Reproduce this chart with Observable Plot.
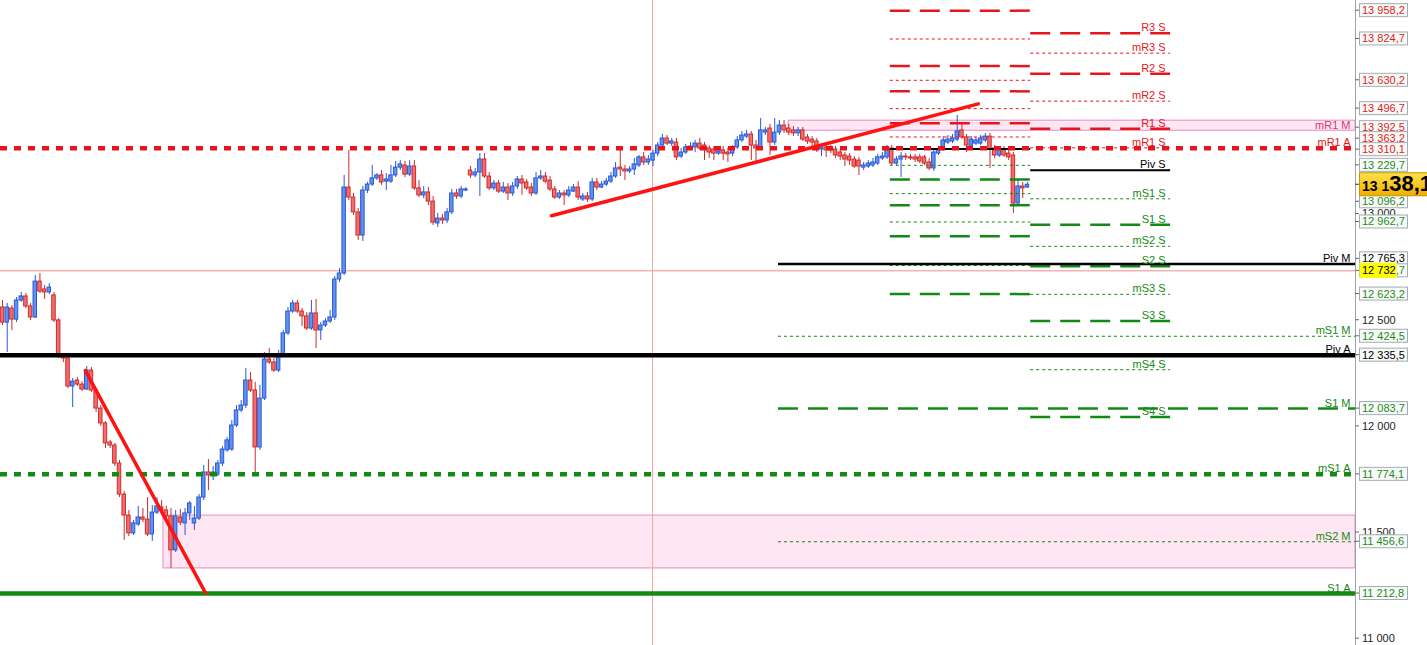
<!DOCTYPE html>
<html><head><meta charset="utf-8">
<script src="https://cdn.jsdelivr.net/npm/d3@7"></script>
<script src="https://cdn.jsdelivr.net/npm/@observablehq/plot@0.6"></script>
<style>html,body{margin:0;padding:0;background:#fff;overflow:hidden}</style>
</head><body><div id="chart"></div>
<script>
// ---- candle data (bar index = position in arrays) ----
const opens = [
12560,12489,12555,12503,12593,12612,12565,12513,12682,12645,
12631,12617,12499,12329,12320,12188,12216,12197,12174,12263,
12169,12084,12014,11924,11910,11825,11679,11580,11496,11538,
11571,11561,11491,11594,11618,11604,11576,11416,11571,11543,
11590,11543,11566,11665,11783,11769,11773,11825,11887,11891,
12004,12075,12098,12216,12169,11901,12131,12315,12301,12263,
12334,12438,12541,12579,12541,12518,12461,12532,12452,12475,
12494,12513,12692,12720,
13125,13078,13008,12899,13111,13139,13168,13182,13153,13153,
13182,13219,13229,13186,13224,13121,13088,13102,13059,12956,
12979,12970,13008,13097,13083,13111,13205,13182,13196,13257,
13177,13121,13144,13106,13125,13097,13130,13163,13149,13125,
13097,13168,13177,13158,13116,13078,13097,13088,13106,13125,
13069,13083,13069,13149,13125,13139,13153,13177,13219,13210,
13201,13210,13229,13267,13243,13252,13285,13323,13356,13332,
13337,
13271,13290,13314,13314,13332,13323,13309,13304,13285,13300,
13290,13285,13314,13347,13365,13375,13323,13309,13384,13403,
13337,13384,13417,13403,13394,13380,13394,13361,13351,13342,
13304,13314,13309,13304,13290,13276,13271,13257,13252,13219,
13224,13229,13238,13262,13267,13309,13238,13257,13271,13267,
13267,13267,13267,13243,13215,13285,13304,13337,13342,13351,
13394,13361,13318,13332,13332,13347,13365,13309,13276,13304,
13285,13276,13050,13130,13125];
const highs = [
12593,12579,12569,12607,12631,12626,12579,12711,12720,12664,
12673,12631,12508,12339,12329,12226,12230,12211,12282,12277,
12178,12098,12023,11934,11920,11839,11693,11604,11557,11623,
11613,11665,11627,11665,11651,11623,11613,11604,11609,11613,
11646,11623,11679,11816,11844,11811,11839,11905,11948,12028,
12098,12122,12273,12254,12207,12193,12348,12367,12320,12358,
12452,12560,12593,12593,12555,12536,12593,12598,12489,12508,
12546,12706,12744,13182,
13300,13097,13026,13130,13150,13229,13191,13205,13191,13229,
13248,13252,13248,13252,13252,13158,13130,13125,13083,13003,
12998,13026,13116,13116,13130,13125,13224,13215,13285,13285,
13196,13158,13158,13149,13144,13149,13177,13182,13163,13144,
13196,13205,13196,13177,13130,13111,13111,13130,13139,13153,
13097,13102,13168,13168,13153,13168,13196,13243,13318,13229,
13224,13262,13276,13290,13276,13300,13337,13375,13370,13356,
13356,
13309,13328,13337,13347,13356,13337,13323,13318,13309,13318,
13309,13323,13365,13389,13394,13389,13347,13450,13408,13422,
13450,13441,13441,13422,13412,13408,13408,13375,13365,13356,
13328,13332,13323,13318,13304,13290,13285,13271,13267,13243,
13252,13262,13281,13290,13323,13323,13271,13290,13285,13281,
13281,13281,13276,13262,13309,13318,13365,13370,13375,13465,
13431,13375,13365,13361,13370,13380,13380,13323,13318,13318,
13300,13290,13158,13149,13149];
const lows = [
12475,12348,12452,12489,12584,12555,12499,12508,12626,12598,
12621,12489,12320,12301,12178,12089,12188,12164,12169,12160,
12065,12000,11896,11896,11811,11665,11463,11481,11486,11529,
11547,11481,11458,11585,11590,11566,11331,11406,11533,11486,
11557,11510,11557,11651,11698,11745,11764,11811,11877,11882,
11995,12065,12084,12160,11783,11887,12122,12292,12254,12254,
12325,12428,12532,12532,12470,12452,12452,12367,12405,12466,
12485,12499,12678,12711,
13064,12993,12876,12871,13097,13130,13158,13135,13111,13144,
13172,13205,13172,13177,13111,13078,13073,13040,12946,12937,
12951,12956,12998,13069,13073,13106,13168,13172,13083,13168,
13111,13111,13097,13097,13064,13083,13116,13088,13111,13083,
13088,13158,13144,13106,13069,13069,13040,13078,13102,13064,
13059,13055,13059,13111,13121,13130,13144,13168,13177,13158,
13191,13182,13219,13229,13229,13224,13271,13309,13323,13318,
13252,
13262,13281,13300,13290,13300,13252,13262,13252,13276,13252,
13243,13271,13304,13337,13356,13252,13243,13300,13370,13276,
13323,13370,13380,13370,13365,13365,13342,13328,13318,13290,
13271,13267,13285,13262,13252,13224,13229,13215,13182,13205,
13215,13219,13229,13252,13257,13229,13229,13172,13252,13252,
13243,13238,13229,13205,13201,13276,13295,13328,13332,13342,
13351,13290,13309,13323,13323,13337,13215,13262,13267,13267,
13252,13003,13040,13073,13121];
const closes = [
12489,12560,12503,12593,12612,12565,12513,12682,12635,12631,
12654,12499,12329,12320,12188,12211,12197,12174,12263,12169,
12084,12014,11920,11910,11825,11679,11580,11496,11543,11571,
11561,11491,11594,11623,11604,11576,11416,11576,11547,11590,
11637,11566,11665,11783,11769,11783,11825,11891,11934,12004,
12075,12098,12216,12169,11901,12131,12315,12301,12263,12334,
12438,12541,12579,12541,12518,12461,12532,12452,12475,12494,
12513,12692,12720,13125,
13078,13008,12899,13111,13139,13168,13182,13149,13163,13182,
13219,13234,13186,13224,13121,13088,13102,13059,12960,12979,
12970,13008,13097,13083,13116,13116,13182,13196,13257,13177,
13121,13144,13106,13125,13097,13130,13163,13144,13121,13097,
13168,13177,13153,13116,13078,13097,13088,13111,13125,13078,
13083,13069,13149,13125,13139,13153,13177,13215,13210,13201,
13210,13234,13267,13243,13257,13285,13323,13356,13332,13342,
13267,
13290,13314,13318,13332,13309,13304,13290,13285,13295,13285,
13281,13314,13347,13370,13375,13323,13309,13394,13394,13337,
13384,13417,13394,13384,13380,13394,13351,13342,13337,13309,
13314,13300,13300,13276,13271,13257,13252,13224,13224,13229,
13238,13243,13267,13271,13309,13238,13257,13271,13267,13262,
13257,13248,13238,13215,13290,13304,13347,13351,13356,13389,
13361,13323,13351,13347,13356,13365,13304,13276,13304,13276,
13267,13050,13130,13121,13138.1];

// ---- time ranges (bar index units) ----
const barStart = -0.43, barEnd = 289.1;
const monthStart = 165.8, weekPrevStart = 189.7, weekCurStart = 219.7, weekCurEnd = 249.6;
const cursorIndex = 138.9;
const markedPrice = 12732.7;

// ---- pivot levels ----
const weekPrevNames  = ["R4","mR4","R3","mR3","R2","mR2","R1","mR1","Piv","mS1","S1","mS2","S2","mS3","S3","mS4","S4"];
const weekPrevValues = [13958.2,13824.7,13697,13630.2,13578,13496.7,13428,13363.2,13307,13229.7,13163,13096.2,13042,12962.7,12896,12758,12623.2];
const weekCurNames   = ["R3","mR3","R2","mR2","R1","mR1","Piv","mS1","S1","mS2","S2","mS3","S3","mS4","S4"];
const weekCurValues  = [13852,13758,13661,13532,13402,13312,13206,13072,12950,12848,12754,12622,12496,12267,12044];
const monthNames  = ["mR1","Piv","mS1","S1","mS2"];
const monthValues = [13392.5,12765.3,12424.5,12083.7,11456.6];
const yearNames   = ["mR1","Piv","mS1","S1"];
const yearValues  = [13310.1,12335.5,11774.1,11212.8];

// ---- zones and trend lines ----
const zoneStarts = [34.4, 168];
const zoneLows   = [11331, 13392.5];
const zoneHighs  = [11580, 13440];
const trendDown = [{i:17.7, v:12263},{i:43.4, v:11215}];
const trendUp   = [{i:117.3, v:12992},{i:208.5, v:13519}];

// ---- right axis ----
const plainTicks = [11000, 11500, 12000, 12500, 13000];
const axisValues = [13958.2,13824.7,13630.2,13496.7,13392.5,13363.2,13310.1,13229.7,13096.2,12962.7,12765.3,12732.7,12623.2,12424.5,12335.5,12083.7,11774.1,11456.6,11212.8];
const axisKinds  = ["R","R","R","R","R","R","R","S","S","S","Piv","S","S","S","Piv","S","S","S","S"];

// ---- build ----
const FONT = "'Liberation Sans', Arial, sans-serif";
const RED = "#e8141c", GREEN = "#138a13", BLACK = "#000";
const colorOf = n => n.startsWith("Piv") ? BLACK : (n.includes("R") ? RED : GREEN);
const candles = closes.map((c, i) => ({i, o: opens[i], h: highs[i], l: lows[i], c}));
const zones = zoneStarts.map((s, k) => ({x1: s, x2: barEnd, y1: zoneLows[k], y2: zoneHighs[k]}));
const levels = [
  ...weekPrevNames.map((n,k)=>({period:"S", name:n, v:weekPrevValues[k], x1:weekPrevStart, x2:weekCurStart, cur:false})),
  ...weekCurNames.map((n,k)=>({period:"S", name:n, v:weekCurValues[k], x1:weekCurStart, x2:weekCurEnd, cur:true})),
  ...monthNames.map((n,k)=>({period:"M", name:n, v:monthValues[k], x1:monthStart, x2:barEnd, cur:true})),
  ...yearNames.map((n,k)=>({period:"A", name:n, v:yearValues[k], x1:barStart, x2:barEnd, cur:true}))
];
function styleOf(l){
  const mid = l.name.startsWith("m"), piv = l.name.startsWith("Piv");
  if (l.period === "A") return {w: 4.5, dash: mid ? "7,7" : null};
  if (piv) return {w: l.period === "M" ? 2.5 : 2, dash: null};
  return mid ? {w: 1, dash: "3,3"} : {w: 2.5, dash: "20,10"};
}
const levelMarks = levels
  .filter(l => !(l.period === "M" && l.name === "mR1"))
  .map(l => { const s = styleOf(l); const o = {y:"v", x1:"x1", x2:"x2", stroke: colorOf(l.name), strokeWidth: s.w};
    if (s.dash) o.strokeDasharray = s.dash; return Plot.ruleY([l], o); });

const up = d => d.c >= d.o;
const chart = Plot.plot({
  width: 1427, height: 645,
  marginLeft: 0, marginRight: 72, marginTop: 0, marginBottom: 0,
  x: {domain: [barStart, barEnd], axis: null},
  y: {domain: [10968, 14006], axis: null},
  color: {type: "identity"},
  style: {background: "#fff", fontFamily: FONT, overflow: "visible"},
  marks: [
    Plot.rect(zones, {x1:"x1", x2:"x2", y1:"y1", y2:"y2", fill:"#ffe6f3", stroke:"#e58cc4", strokeWidth:1}),
    Plot.ruleY([markedPrice], {stroke:"#f28c8c", strokeWidth:1}),
    Plot.ruleX([cursorIndex], {stroke:"#f3a5a5", strokeWidth:1}),
    Plot.ruleX(candles, {x:"i", y1: d=>Math.min(d.l,d.o,d.c), y2: d=>Math.max(d.h,d.o,d.c), stroke: d=> up(d) ? "#2858d8" : "#cf2a2a", strokeWidth:1}),
    Plot.rect(candles, {x1: d=>d.i-0.37, x2: d=>d.i+0.37, y1:"o", y2:"c", fill: d=> up(d) ? "#6092ee" : "#f26e6e", stroke: d=> up(d) ? "#2858d8" : "#cf2a2a", strokeWidth:1}),
    ...levelMarks,
    Plot.line(trendDown, {x:"i", y:"v", stroke:"#ff1212", strokeWidth:3.5}),
    Plot.line(trendUp, {x:"i", y:"v", stroke:"#ff1212", strokeWidth:3.5}),
    Plot.text(levels.filter(l => l.period === "S" && l.cur), {x: weekCurEnd, y:"v", text: d => d.name + " S", fill: d => colorOf(d.name), textAnchor:"end", lineAnchor:"bottom", dx:-5, dy:-2, fontSize:11, fontFamily: FONT}),
    Plot.text(levels.filter(l => l.period !== "S"), {x: barEnd, y:"v", text: d => d.name + " " + d.period, fill: d => d.name === "mR1" && d.period === "M" ? "#e0306a" : colorOf(d.name), textAnchor:"end", lineAnchor:"bottom", dx:-5, dy:-2, fontSize:11, fontFamily: FONT}),
    Plot.ruleX([barEnd], {stroke:"#9da4ab", strokeWidth:1})
  ]
});
document.getElementById("chart").appendChild(chart);

// ---- right price axis drawn with the plot's y scale ----
const loc = d3.formatLocale({decimal: ",", thousands: "\u00a0", grouping: [3], currency: ["", ""]});
const fmt1 = loc.format(",.1f"), fmt0 = loc.format(",.0f");
const yS = chart.scale("y");
const svg = d3.select(chart);
const g = svg.append("g").attr("font-family", FONT).attr("font-size", 11).attr("text-anchor", "start");
const AX = 1355;
for (const t of plainTicks) {
  const py = yS.apply(t);
  g.append("line").attr("x1", AX).attr("x2", AX + 4).attr("y1", py).attr("y2", py).attr("stroke", "#666");
  g.append("text").attr("x", AX + 7).attr("y", py).attr("dy", "0.35em").attr("fill", "#222").text(fmt0(t));
}
const lastPrice = closes[closes.length - 1];
let items = axisValues.map((v, k) => ({v, kind: axisKinds[k], py: yS.apply(v), h: v === markedPrice ? 6.5 : 5.5, fixed: v === markedPrice}));
items.push({v: lastPrice, kind: "price", py: yS.apply(lastPrice), h: 11.5, fixed: true});
items.sort((a, b) => a.py - b.py);
for (let it = 0; it < 200; it++) {
  for (let k = 1; k < items.length; k++) {
    const a = items[k-1], b = items[k], need = a.h + b.h, gap = b.py - a.py;
    if (gap < need) { const d = need - gap;
      if (a.fixed) b.py += d; else if (b.fixed) a.py -= d; else { a.py -= d/2; b.py += d/2; } }
  }
}
const kindColor = {R: "#e01c24", S: "#1e8a1e", Piv: "#000"};
for (const it of items.filter(d => d.kind !== "price")) {
  g.append("line").attr("x1", AX).attr("x2", AX + 4).attr("y1", it.py).attr("y2", it.py).attr("stroke", "#666");
  g.append("rect").attr("x", AX + 4.5).attr("y", it.py - 6.5).attr("width", 48).attr("height", 13)
    .attr("fill", "#f7faf7").attr("stroke", "#a3acb4");
  g.append("text").attr("x", AX + 7).attr("y", it.py).attr("dy", "0.36em").attr("fill", kindColor[it.kind]).text(fmt1(it.v));
}
// highlighted level tag
{
  const py = yS.apply(markedPrice);
  g.append("rect").attr("x", AX + 4.5).attr("y", py - 7.5).attr("width", 37).attr("height", 15).attr("fill", "#ffff00");
  g.append("text").attr("x", AX + 7).attr("y", py).attr("dy", "0.36em").attr("fill", "#000").text(fmt0(Math.floor(markedPrice)));
}
// last price tag
{
  const defs = svg.append("defs");
  const gr = defs.append("linearGradient").attr("id", "pg").attr("x1", 0).attr("x2", 0).attr("y1", 0).attr("y2", 1);
  gr.append("stop").attr("offset", "0%").attr("stop-color", "#ffe24a");
  gr.append("stop").attr("offset", "100%").attr("stop-color", "#f0ae00");
  const py = yS.apply(lastPrice);
  g.append("line").attr("x1", AX).attr("x2", AX + 5).attr("y1", py).attr("y2", py).attr("stroke", "#333");
  g.append("rect").attr("x", AX + 4.5).attr("y", py - 11.5).attr("width", 75).attr("height", 23)
    .attr("fill", "url(#pg)").attr("stroke", "#c89400");
  const s = fmt1(lastPrice);
  const t = g.append("text").attr("x", AX + 7).attr("y", py + 7).attr("font-weight", "bold").attr("fill", "#000");
  t.append("tspan").attr("font-size", 14).text(s.slice(0, 4));
  t.append("tspan").attr("font-size", 22).text(s.slice(4));
}
</script></body></html>
